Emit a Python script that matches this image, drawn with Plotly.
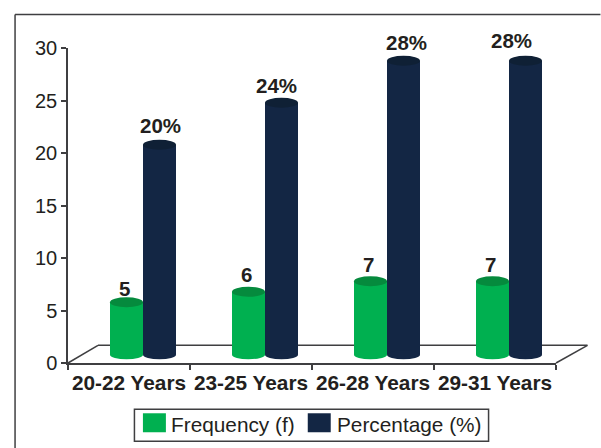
import plotly.graph_objects as go

categories = ["20-22 Years", "23-25 Years", "26-28 Years", "29-31 Years"]
frequency = [5, 6, 7, 7]
percentage = [20, 24, 28, 28]
pct_labels = ["20%", "24%", "28%", "28%"]
series_names = ["Frequency (f)", "Percentage (%)"]

W, H = 601, 448
L, R, T, B = 68, 556.5, 47.5, 362.7
GREEN, GREEN_TOP = "#00b050", "#058a3d"
NAVY, NAVY_TOP = "#132644", "#0f2035"
AXIS = "#3f3f41"
TEXT = "#231f20"
FONT = "Liberation Sans"
BAR_W = 33 / 122
DX = 14 / 122
DY = 8.2 / ((B - T) / 30)
# hand-placed label nudges of the original, in pixels
FREQ_NUDGE = [(-2, 0), (-2, 4), (-2, 3), (-2, 3)]
PCT_NUDGE = [(1, 6), (-5, 4), (3, 5), (-14, 7)]

def px(x):
    return (x - L) / (R - L)
def py(y):
    return (B - y) / (B - T)

fig = go.Figure()
fig.add_trace(go.Scatter(x=categories, y=frequency, mode="none", showlegend=False, hoverinfo="skip"))
for name, vals, col, off in [(series_names[0], frequency, GREEN, -BAR_W), (series_names[1], percentage, NAVY, 0)]:
    fig.add_trace(go.Bar(x=list(range(4)), y=vals, name=name, width=BAR_W, offset=off, marker=dict(color=col, line=dict(width=0)),
                         xaxis="x2", yaxis="y2", showlegend=False))

shapes = []
# floor
for x0, y0, x1, y1 in [(L, B, 98, 345), (98, 345, 588, 345), (588, 345, R, B)]:
    shapes.append(dict(type="line", xref="paper", yref="paper", x0=px(x0), y0=py(y0), x1=px(x1), y1=py(y1),
                       line=dict(color=AXIS, width=1.5), layer="below"))
# frame
shapes.append(dict(type="line", xref="paper", yref="paper", x0=px(15), y0=py(14), x1=px(15), y1=py(H), line=dict(color=AXIS, width=1.5)))
shapes.append(dict(type="line", xref="paper", yref="paper", x0=px(15), y0=py(14), x1=px(W), y1=py(14), line=dict(color=AXIS, width=1.5)))

annotations = []
for vals, labels, col, top, off, nudges in [
    (frequency, [str(v) for v in frequency], GREEN, GREEN_TOP, -BAR_W / 2, FREQ_NUDGE),
    (percentage, pct_labels, NAVY, NAVY_TOP, BAR_W / 2, PCT_NUDGE),
]:
    for i, (v, lab) in enumerate(zip(vals, labels)):
        xc = i + off
        common = dict(type="circle", xref="x2", yref="y2", xsizemode="pixel", ysizemode="pixel", xanchor=xc,
                      x0=-16.5, x1=16.5, line=dict(width=0), layer="above")
        shapes.append(dict(common, yanchor=0, y0=-4.5, y1=4.5, fillcolor=col))
        shapes.append(dict(common, yanchor=v, y0=-5, y1=5, fillcolor=top))
        annotations.append(dict(xref="x2", yref="y2", x=xc, y=v, text=f"<b>{lab}</b>", showarrow=False, yanchor="bottom",
                                xshift=nudges[i][0], yshift=nudges[i][1], font=dict(family=FONT, size=20.5, color=TEXT)))

# legend
shapes.append(dict(type="rect", xref="paper", yref="paper", x0=px(134.5), x1=px(489), y0=py(409), y1=py(441),
                   line=dict(color=AXIS, width=1.5), fillcolor="white"))
for x0, col in [(143, GREEN), (308, NAVY)]:
    shapes.append(dict(type="rect", xref="paper", yref="paper", x0=px(x0), x1=px(x0 + 23), y0=py(413), y1=py(432),
                       line=dict(width=0), fillcolor=col))
for x0, name in [(169.5, series_names[0]), (335.5, series_names[1])]:
    annotations.append(dict(xref="paper", yref="paper", x=px(x0), y=py(424), text=name, showarrow=False, xanchor="left",
                            yanchor="middle", font=dict(family=FONT, size=20.8, color=TEXT)))

fig.update_layout(
    width=W, height=H, margin=dict(l=L, r=W - R, t=T, b=H - B, autoexpand=False),
    paper_bgcolor="white", plot_bgcolor="white", showlegend=False, barmode="overlay",
    font=dict(family=FONT, color=TEXT),
    xaxis=dict(type="category", categoryorder="array", categoryarray=categories, range=[-0.5, 3.5], tickson="boundaries",
               ticks="outside", ticklen=5, tickwidth=1.5, tickcolor=AXIS, showline=True, linecolor=AXIS, linewidth=1.5,
               showgrid=False, zeroline=False, tickfont=dict(family=FONT, size=20.8, color=TEXT), ticklabelposition="outside",
               tickangle=0, tickprefix="<b>", ticksuffix="</b>"),
    yaxis=dict(range=[0, 30], tickvals=[0, 5, 10, 15, 20, 25, 30], ticks="outside", ticklen=5, tickwidth=1.5, tickcolor=AXIS,
               showline=True, linecolor=AXIS, linewidth=1.5, showgrid=False, zeroline=False,
               tickfont=dict(family=FONT, size=20, color=TEXT)),
    xaxis2=dict(overlaying="x", range=[-0.5 - DX, 3.5 - DX], visible=False),
    yaxis2=dict(overlaying="y", range=[-DY, 30 - DY], visible=False),
    shapes=shapes, annotations=annotations,
)
fig.write_html("out.html", config=dict(displayModeBar=False), post_script="document.body.style.margin='0';")
